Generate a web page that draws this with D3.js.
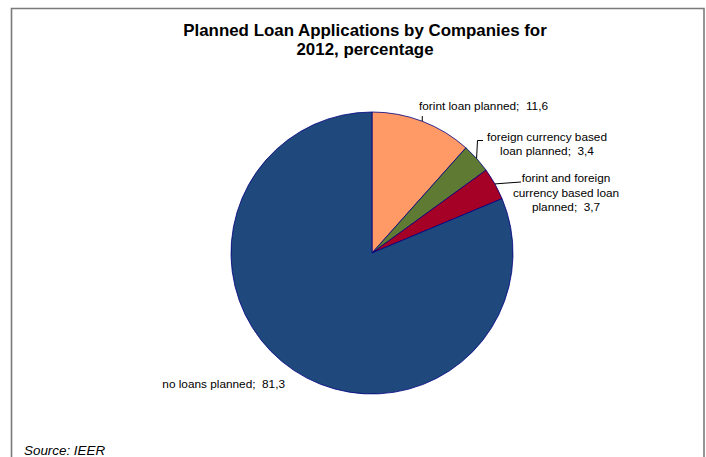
<!DOCTYPE html>
<html>
<head>
<meta charset="utf-8">
<script src="https://cdn.jsdelivr.net/npm/d3@7"></script>
<style>
  html, body { margin: 0; padding: 0; background: #fff; }
  svg { display: block; font-family: "Liberation Sans", Arial, sans-serif; }
</style>
</head>
<body>
<svg id="chart" width="706" height="457"></svg>
<script>
// Planned loan applications by companies for 2012 (percent)
const categories = [
  "forint loan planned",
  "foreign currency based loan planned",
  "forint and foreign currency based loan planned",
  "no loans planned"
];
const values = [11.6, 3.4, 3.7, 81.3];
const colors = ["#FF9966", "#5F7A33", "#A50026", "#1F497D"];
// label text, broken into lines; the value is appended to the last line
const labelLines = [
  ["forint loan planned;"],
  ["foreign currency based", "loan planned;"],
  ["forint and foreign", "currency based loan", "planned;"],
  ["no loans planned;"]
];
const titleLines = ["Planned Loan Applications by Companies for", "2012, percentage"];
const sourceText = "Source: IEER";

const svg = d3.select("#chart");
const W = 706, H = 457;

// chart frame (open at the bottom edge)
svg.append("path")
  .attr("d", `M11.5,${H} V8.5 H704 V${H}`)
  .attr("fill", "none")
  .attr("stroke", "#7a7a7a")
  .attr("stroke-width", 1.6);

// title
svg.append("text")
  .attr("text-anchor", "middle")
  .attr("font-weight", "bold")
  .attr("font-size", 16.9)
  .attr("fill", "#000")
  .selectAll("tspan")
  .data(titleLines)
  .join("tspan")
  .attr("x", 365)
  .attr("y", (d, i) => 36 + i * 18.5)
  .text(d => d);

// pie
const cx = 372, cy = 253, R = 141;
const pie = d3.pie().sort(null).value(d => d.value);
const arcs = pie(categories.map((c, i) => ({ name: c, value: values[i], color: colors[i], lines: labelLines[i] })));
const arc = d3.arc().innerRadius(0).outerRadius(R);

const g = svg.append("g").attr("transform", `translate(${cx},${cy})`);
g.selectAll("path.slice")
  .data(arcs)
  .join("path")
  .attr("class", "slice")
  .attr("d", arc)
  .attr("fill", d => d.data.color)
  .attr("stroke", "#000080")
  .attr("stroke-width", 0.8)
  .attr("stroke-linejoin", "round");

const fmt = v => d3.format(".1f")(v).replace(".", ",");

// label placement: anchor x, first baseline, text-anchor;
// leader bend points relative to the pie centre
const labelPos = [
  { x: 419, y: 110, anchor: "start", leader: [[50.3, -137]] },
  { x: 547, y: 140.5, anchor: "middle", leader: [[105.5, -112.5], [111, -112.5]] },
  { x: 566, y: 182, anchor: "middle", leader: [[149, -71]] },
  { x: 285, y: 387.5, anchor: "end", leader: null }
];
const lineH = 14.5;

arcs.forEach((a, i) => {
  const p = labelPos[i];
  const mid = (a.startAngle + a.endAngle) / 2;
  const ex = R * Math.sin(mid), ey = -R * Math.cos(mid);
  if (p.leader) {
    const pts = [[ex, ey]].concat(p.leader);
    g.append("path")
      .attr("d", d3.line()(pts))
      .attr("fill", "none")
      .attr("stroke", "#000")
      .attr("stroke-width", 1);
  }
  const lines = a.data.lines.slice();
  lines[lines.length - 1] = lines[lines.length - 1] + "\u00a0\u00a0" + fmt(a.data.value);
  svg.append("text")
    .attr("text-anchor", p.anchor)
    .attr("font-size", 11.8)
    .attr("fill", "#000")
    .selectAll("tspan")
    .data(lines)
    .join("tspan")
    .attr("x", p.x)
    .attr("y", (d, j) => p.y + j * lineH)
    .text(d => d);
});

// source note
svg.append("text")
  .attr("x", 24)
  .attr("y", 455)
  .attr("font-size", 13.4)
  .attr("font-style", "italic")
  .attr("fill", "#000")
  .text(sourceText);
</script>
</body>
</html>
